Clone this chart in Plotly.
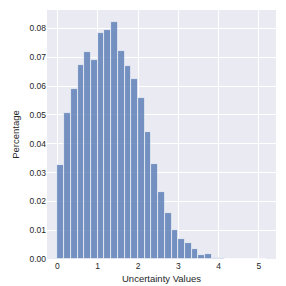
import plotly.graph_objects as go

# Histogram of uncertainty values (31 bins of width 1/6 starting at 0)
bin_start = 0.0
bin_width = 1.0 / 6.0
percentages = [
    0.0326, 0.0508, 0.0589, 0.0672, 0.0720, 0.0692, 0.0786, 0.0795,
    0.0823, 0.0723, 0.0669, 0.0625, 0.0559, 0.0441, 0.0331, 0.0232,
    0.0159, 0.0101, 0.0070, 0.0054, 0.0033, 0.0013, 0.0018, 0.0004,
    0.0004, 0.0001, 0.0, 0.0, 0.0, 0.0, 0.0001,
]
x_ticks = [0, 1, 2, 3, 4, 5]
y_ticks = [0.00, 0.01, 0.02, 0.03, 0.04, 0.05, 0.06, 0.07, 0.08]

centers = [bin_start + (i + 0.5) * bin_width for i in range(len(percentages))]
x_max = bin_start + len(percentages) * bin_width
span = x_max - bin_start

fig = go.Figure(
    go.Bar(
        x=centers,
        y=percentages,
        width=bin_width,
        marker=dict(color="rgba(76,114,176,0.75)",
                    line=dict(color="rgba(255,255,255,0.8)", width=0.8)),
        hoverinfo="x+y",
    )
)

font = "Liberation Sans, Arial, sans-serif"
fig.update_layout(
    width=286, height=286,
    margin=dict(l=47, r=10, t=10, b=27, autoexpand=False),
    paper_bgcolor="white",
    plot_bgcolor="#EAEAF2",
    showlegend=False,
    bargap=0,
    font=dict(family=font, size=8.5, color="#262626"),
    xaxis=dict(
        range=[bin_start - 0.05 * span, x_max + 0.05 * span],
        tickvals=x_ticks,
        ticktext=[str(t) for t in x_ticks],
        showgrid=True, gridcolor="white", gridwidth=1,
        zeroline=False, showline=False, ticks="",
        automargin=False,
        title=dict(text="Uncertainty Values", font=dict(size=9.5), standoff=5),
    ),
    yaxis=dict(
        range=[0, max(percentages) * 1.05],
        tickvals=y_ticks,
        ticktext=[f"{t:.2f}" for t in y_ticks],
        showgrid=True, gridcolor="white", gridwidth=1,
        zeroline=False, showline=False, ticks="",
        automargin=False,
        title=dict(text="Percentage", font=dict(size=9.5), standoff=8),
    ),
)

fig.write_html("out.html", config={"displayModeBar": False},
               post_script="document.body.style.margin='0';")
